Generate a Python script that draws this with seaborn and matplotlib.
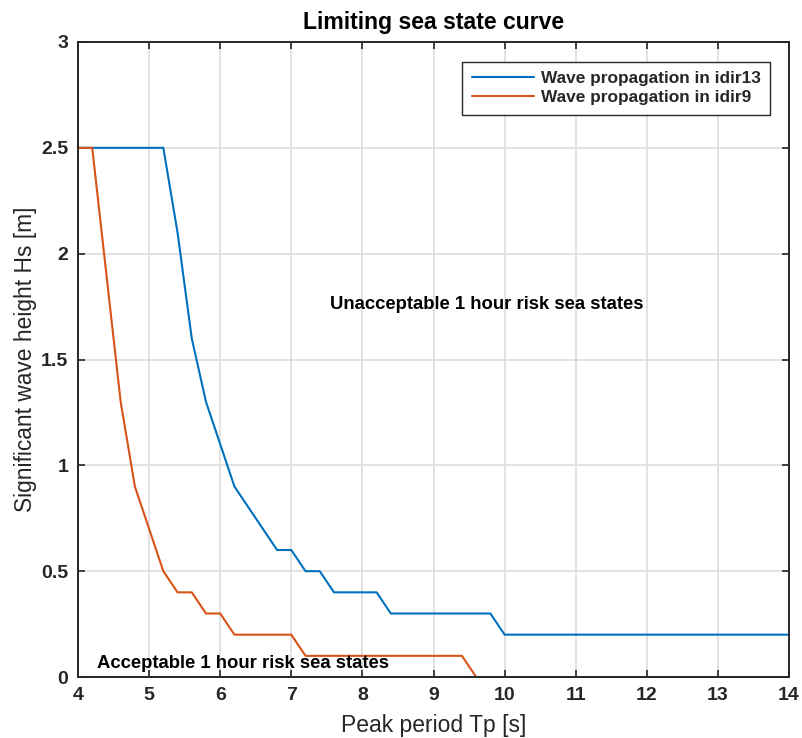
import matplotlib
matplotlib.use("Agg")
import matplotlib.pyplot as plt
import seaborn as sns

# Data
tp_idir13 = [4.0, 5.2, 5.4, 5.6, 5.8, 6.2, 6.8, 7.0, 7.2, 7.4, 7.6, 8.2, 8.4, 9.8, 10.0, 14.0]
hs_idir13 = [2.5, 2.5, 2.1, 1.6, 1.3, 0.9, 0.6, 0.6, 0.5, 0.5, 0.4, 0.4, 0.3, 0.3, 0.2, 0.2]
tp_idir9 = [4.0, 4.2, 4.6, 4.8, 5.2, 5.4, 5.6, 5.8, 6.0, 6.2, 7.0, 7.2, 9.4, 9.6, 14.0]
hs_idir9 = [2.5, 2.5, 1.3, 0.9, 0.5, 0.4, 0.4, 0.3, 0.3, 0.2, 0.2, 0.1, 0.1, 0.0, 0.0]
series_names = ["Wave propagation in idir13", "Wave propagation in idir9"]
x_ticks = [4, 5, 6, 7, 8, 9, 10, 11, 12, 13, 14]
y_ticks = [0, 0.5, 1, 1.5, 2, 2.5, 3]
y_tick_labels = ["0", "0.5", "1", "1.5", "2", "2.5", "3"]

sns.set_theme(style="whitegrid")
plt.rcParams['font.family'] = ['Liberation Sans', 'DejaVu Sans']

W, H = 802, 738
fig = plt.figure(figsize=(W / 100, H / 100), dpi=100)
ax = fig.add_axes([78 / W, (H - 677) / H, (789 - 78) / W, (677 - 42) / H])

palette = {series_names[0]: "#0072BD", series_names[1]: "#D95319"}
for name, tp, hs in [(series_names[0], tp_idir13, hs_idir13), (series_names[1], tp_idir9, hs_idir9)]:
    sns.lineplot(x=tp, y=hs, sort=False, estimator=None, color=palette[name],
                 linewidth=1.5, ax=ax, label=name)

ax.set_xlim(4, 14)
ax.set_ylim(0, 3)
ax.set_xticks(x_ticks)
ax.set_yticks(y_ticks)
ax.set_yticklabels(y_tick_labels)
ax.grid(True, color="#dfdfdf", linewidth=1.3)
ax.set_axisbelow(True)
for s in ax.spines.values():
    s.set_color("#262626")
    s.set_linewidth(1.4)
    s.set_visible(True)
ax.tick_params(axis="both", which="both", direction="in", length=5, width=1.2,
               color="#262626", top=True, right=True, bottom=True, left=True,
               labelsize=14, labelcolor="#262626", pad=7)
for lab in ax.get_xticklabels() + ax.get_yticklabels():
    lab.set_fontweight("bold")

ax.set_xlabel("Peak period Tp [s]", fontsize=16.5, color="#262626", labelpad=7.5)
ax.set_ylabel("Significant wave height Hs [m]", fontsize=16.4, color="#262626", labelpad=3)
ax.set_title("Limiting sea state curve", fontsize=16.6, fontweight="bold", color="black", pad=9)

ax.text(9.75, 1.76, "Unacceptable 1 hour risk sea states", fontsize=13.3, fontweight="bold",
        ha="center", va="center", color="black")
ax.text(4.27, 0.066, "Acceptable 1 hour risk sea states", fontsize=13.3, fontweight="bold",
        ha="left", va="center", color="black")

leg = ax.legend(loc="upper right", bbox_to_anchor=(0.9735, 0.969), fontsize=12.4,
                frameon=True, fancybox=False, edgecolor="#262626", framealpha=1,
                borderpad=0.55, handlelength=3.6, handletextpad=0.4, labelspacing=0.22,
                borderaxespad=0)
leg.get_frame().set_linewidth(1.0)
for t in leg.get_texts():
    t.set_fontweight("bold")

fig.savefig("out.png", dpi=100, facecolor="white")
